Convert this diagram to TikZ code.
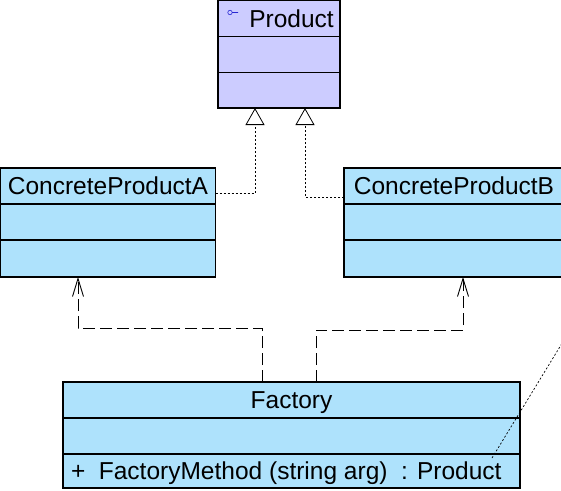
\documentclass[tikz,border=0pt]{standalone}
\usepackage{fontspec}
\setmainfont{Liberation Sans}
\usetikzlibrary{arrows.meta, positioning}

\definecolor{productfill}{RGB}{204,204,255}
\definecolor{classfill}{RGB}{174,226,252}
\definecolor{iconblue}{RGB}{40,40,210}

\tikzset{
	classpart/.style={draw, line width=1.1pt, fill=classfill, inner sep=0pt, outer sep=0pt, minimum height=36pt, text height=17.5pt, text depth=0pt, font=\fontsize{24.5pt}{28pt}\selectfont},
	realize/.style={line width=0.8pt, dash pattern=on 2pt off 2pt, -{Triangle[open, length=17pt, width=19pt]}},
	depend/.style={line width=0.9pt, dash pattern=on 12pt off 5pt, -{Straight Barb[length=18pt, width=11pt]}},
}

\begin{document}
\begin{tikzpicture}[x=1pt, y=-1pt]

	\useasboundingbox (0,0) rectangle (561,490);

	% Product
	\node[classpart, fill=productfill, minimum width=122pt, anchor=north west] (prod) at (218,0.5) {\hspace*{25pt}Product};
	\node[classpart, fill=productfill, minimum width=122pt, below=0pt of prod] (prod-attr) {};
	\node[classpart, fill=productfill, minimum width=122pt, minimum height=35.5pt, below=0pt of prod-attr] (prod-ops) {};
	\draw[iconblue, line width=0.6pt] ([xshift=12pt, yshift=-12pt]prod.north west) circle (2.2pt) ++(2.2pt,0) -- ++(6pt,0);

	% ConcreteProductA
	\node[classpart, minimum width=215pt, anchor=north west] (prodA) at (0.5,168) {ConcreteProductA};
	\node[classpart, minimum width=215pt, below=0pt of prodA] (prodA-attr) {};
	\node[classpart, minimum width=215pt, minimum height=37pt, below=0pt of prodA-attr] (prodA-ops) {};

	% ConcreteProductB
	\node[classpart, minimum width=220pt, anchor=north west] (prodB) at (344,168) {ConcreteProductB};
	\node[classpart, minimum width=220pt, below=0pt of prodB] (prodB-attr) {};
	\node[classpart, minimum width=220pt, minimum height=37pt, below=0pt of prodB-attr] (prodB-ops) {};

	% Factory
	\node[classpart, minimum width=457pt, anchor=north west] (fac) at (63,382) {Factory};
	\node[classpart, minimum width=457pt, below=0pt of fac] (fac-attr) {};
	\node[classpart, minimum width=457pt, minimum height=34pt, below=0pt of fac-attr] (fac-ops) {\makebox[441pt][l]{+\ \ FactoryMethod (string arg)\ \ : Product}};

	% Realization
	\draw[realize] ([yshift=-7pt]prodA.east) -| ([xshift=37pt]prod-ops.south west);
	\draw[realize] ([yshift=-11pt]prodB.west) -| ([xshift=-35pt]prod-ops.south east);

	% Dependencies
	\draw[depend] ([xshift=199pt]fac.north west) -- ++(0pt,54pt) -| ([xshift=77.5pt]prodA-ops.south west);
	\draw[depend] ([xshift=253pt]fac.north west) -- ++(0pt,52pt) -| ([xshift=119pt]prodB-ops.south west);

	% Note link
	\coordinate (note) at (575,322);
	\draw[line width=0.7pt, dash pattern=on 2pt off 2pt] ([xshift=429pt, yshift=-4pt]fac-ops.north west) -- (note);

\end{tikzpicture}
\end{document}
